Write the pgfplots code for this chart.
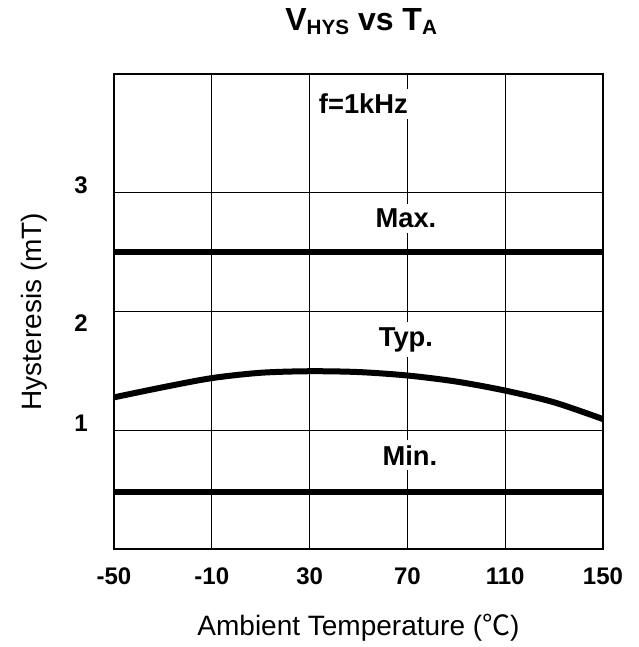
\documentclass[border=0pt]{standalone}
\usepackage{pgfplots}
\pgfplotsset{compat=1.18}
\usepackage{fontspec}
\setmainfont{Liberation Sans}
\newfontfamily\cjk{Noto Sans CJK SC}

\begin{document}
\begin{tikzpicture}
\begin{axis}[
    name=ax, at={(0,0)}, anchor=south west,
    scale only axis, width=366.75pt, height=356.25pt,
    xmin=-50, xmax=150, ymin=0, ymax=4,
    xtick={-50,-10,30,70,110,150},
    xticklabels={-50,-10,30,70,110,150},
    ytick={1,2,3},
    yticklabels={1,\raisebox{-14.25pt}{2},3},
    grid=major,
    major grid style={black, line width=0.8pt},
    axis line style={line width=0.8pt},
    major tick length=0pt,
    xticklabel style={font=\fontsize{18}{18}\selectfont\bfseries, anchor=base, yshift=-26.25pt},
    yticklabel style={font=\fontsize{18}{18}\selectfont\bfseries, anchor=base, xshift=-24.75pt, yshift=-0.75pt},
  ]
  % Max / Min limits
  \addplot[black, line width=4.5pt] coordinates {(-50,2.5) (150,2.5)};
  \addplot[black, line width=4.5pt] coordinates {(-50,0.48) (150,0.48)};
  % Typ
  \addplot[black, line width=4.5pt, smooth, line cap=round] coordinates {
    (-50,1.277) (-30,1.362) (-10,1.439) (10,1.484) (30,1.497)
    (50,1.490) (70,1.461) (90,1.410) (110,1.334) (130,1.235) (150,1.094)
  };
  \node[fill=white, inner sep=4pt, anchor=base, font=\fontsize{20.5}{21}\selectfont\bfseries]
    at (axis cs:52,3.664) {f=1kHz};
  \node[fill=white, inner sep=4pt, anchor=base, font=\fontsize{20.5}{21}\selectfont\bfseries]
    at (axis cs:69.4,2.706) {Max.};
  \node[fill=white, inner sep=4pt, anchor=base, font=\fontsize{20.5}{21}\selectfont\bfseries]
    at (axis cs:69.4,1.706) {Typ.};
  \node[fill=white, inner sep=4pt, anchor=base, font=\fontsize{20.5}{21}\selectfont\bfseries]
    at (axis cs:71,0.706) {Min.};
\end{axis}

% title and axis labels
\node[anchor=base, font=\fontsize{24}{25}\selectfont\bfseries]
  at ([xshift=2pt, yshift=32.25pt]ax.north)
  {V\raisebox{-2.6pt}{\fontsize{15.5}{16}\selectfont HYS} vs T\raisebox{-2.6pt}{\fontsize{15.5}{16}\selectfont A}};
\node[anchor=base, font=\fontsize{21}{21}\selectfont]
  at ([yshift=-64.5pt]ax.south) {Ambient Temperature ({\cjk ℃})};
\node[anchor=base, rotate=90, font=\fontsize{21}{21}\selectfont]
  at ([xshift=-54pt]ax.west) {Hysteresis (mT)};

\pgfresetboundingbox
\path[use as bounding box] ([shift={(-85.5pt,-73.5pt)}]ax.south west)
  rectangle ([shift={(393.75pt,411.75pt)}]ax.south west);
\end{tikzpicture}
\end{document}
